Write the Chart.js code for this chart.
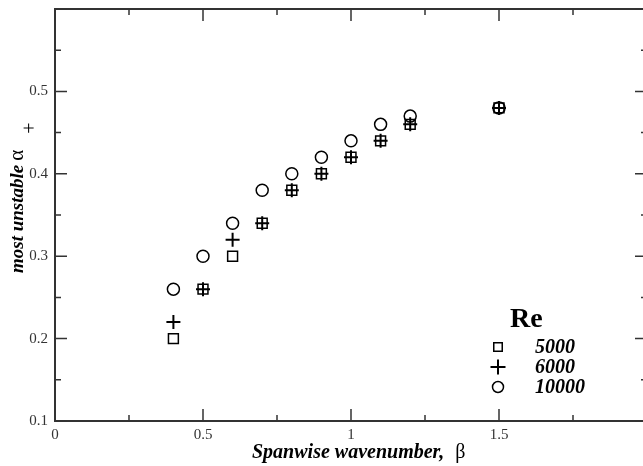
<!DOCTYPE html>
<html><head><meta charset="utf-8">
<script src="https://cdn.jsdelivr.net/npm/chart.js@4/dist/chart.umd.min.js"></script>
<style>
html,body{margin:0;padding:0;background:#fff;overflow:hidden;}
#wrap{width:643px;height:466px;overflow:hidden;position:relative;}
canvas{display:block;}
</style></head><body>
<div id="wrap"><canvas id="c" width="656" height="466"></canvas></div>
<script>
const beta    = [0.4, 0.5, 0.6, 0.7, 0.8, 0.9, 1.0, 1.1, 1.2, 1.5];
const re5000  = [0.20, 0.26, 0.30, 0.34, 0.38, 0.40, 0.42, 0.44, 0.46, 0.48];
const re6000  = [0.22, 0.26, 0.32, 0.34, 0.38, 0.40, 0.42, 0.44, 0.46, 0.48];
const re10000 = [0.26, 0.30, 0.34, 0.38, 0.40, 0.42, 0.44, 0.46, 0.47, 0.48];
const seriesNames = ['5000', '6000', '10000'];
const xTickLabels = [0, 0.5, 1, 1.5];
const yTickLabels = [0.1, 0.2, 0.3, 0.4, 0.5];
const xMajor = [0, 0.5, 1, 1.5, 2];
const xMinor = [0.25, 0.75, 1.25, 1.75];
const yMajor = [0.1, 0.2, 0.3, 0.4, 0.5, 0.6];
const yMinor = [0.15, 0.25, 0.35, 0.45, 0.55];

const SERIF = '"Liberation Serif", "Times New Roman", serif';
const pts = (ys) => beta.map((b, i) => ({x: b, y: ys[i]}));

const decor = {
  id: 'decor',
  afterDraw(chart) {
    const ctx = chart.ctx;
    const a = chart.chartArea;
    const xs = chart.scales.x, ys = chart.scales.y;
    ctx.save();
    ctx.strokeStyle = '#333';
    ctx.lineWidth = 2;
    ctx.strokeRect(a.left, a.top, a.right - a.left, a.bottom - a.top);
    ctx.lineWidth = 1.5;
    const tx = (v, len) => {
      const p = xs.getPixelForValue(v);
      ctx.beginPath();
      ctx.moveTo(p, a.bottom); ctx.lineTo(p, a.bottom - len);
      ctx.moveTo(p, a.top); ctx.lineTo(p, a.top + len);
      ctx.stroke();
    };
    const ty = (v, len) => {
      const p = ys.getPixelForValue(v);
      ctx.beginPath();
      ctx.moveTo(a.left, p); ctx.lineTo(a.left + len, p);
      ctx.moveTo(a.right, p); ctx.lineTo(a.right - len, p);
      ctx.stroke();
    };
    xMajor.forEach(v => tx(v, 12));
    xMinor.forEach(v => tx(v, 6));
    yMajor.forEach(v => ty(v, 12));
    yMinor.forEach(v => ty(v, 6));

    ctx.fillStyle = '#000';
    ctx.textBaseline = 'alphabetic';
    ctx.textAlign = 'left';
    ctx.font = 'italic bold 20px ' + SERIF;
    const xt = 'Spanwise wavenumber,';
    ctx.fillText(xt, 252, 458);
    const xw = ctx.measureText(xt).width;
    ctx.font = '20px ' + SERIF;
    ctx.fillText('β', 252 + xw + 11, 458);

    ctx.save();
    ctx.translate(23, 273);
    ctx.rotate(-Math.PI / 2);
    ctx.font = 'italic bold 19px ' + SERIF;
    const yt = 'most unstable';
    ctx.fillText(yt, 0, 0);
    const yw = ctx.measureText(yt).width;
    ctx.font = '21px ' + SERIF;
    ctx.fillText('α', yw + 4, 0);
    const aw = ctx.measureText('α').width;
    ctx.font = '20px ' + SERIF;
    ctx.fillText('+', yw + 4 + aw + 16, 13);
    ctx.restore();

    ctx.font = 'bold 28px ' + SERIF;
    ctx.fillText('Re', 510, 327);
    const rows = [347, 367, 387];
    chart.data.datasets.forEach((ds, i) => {
      ctx.fillStyle = 'rgba(0,0,0,0)';
      ctx.strokeStyle = '#000';
      ctx.lineWidth = ds.borderWidth;
      Chart.helpers.drawPoint(ctx, {
        pointStyle: ds.pointStyle,
        radius: ds.legendRadius,
        borderWidth: ds.borderWidth,
        rotation: 0
      }, 498, rows[i]);
      ctx.font = 'italic bold 20px ' + SERIF;
      ctx.fillStyle = '#000';
      ctx.fillText(ds.label, 535, rows[i] + 6);
    });
    ctx.restore();
  }
};

new Chart(document.getElementById('c'), {
  type: 'scatter',
  data: {
    datasets: [
      {label: seriesNames[0], data: pts(re5000), pointStyle: 'rect', pointRadius: 7, legendRadius: 6,
       borderColor: '#000', backgroundColor: 'rgba(0,0,0,0)', borderWidth: 1.5},
      {label: seriesNames[1], data: pts(re6000), pointStyle: 'cross', pointRadius: 7, legendRadius: 7.5,
       borderColor: '#000', backgroundColor: 'rgba(0,0,0,0)', borderWidth: 2},
      {label: seriesNames[2], data: pts(re10000), pointStyle: 'circle', pointRadius: 6, legendRadius: 5.5,
       borderColor: '#000', backgroundColor: 'rgba(0,0,0,0)', borderWidth: 1.5}
    ]
  },
  options: {
    responsive: false,
    devicePixelRatio: 1,
    animation: false,
    layout: {padding: {top: 8, right: 1, left: 0, bottom: 0}},
    plugins: {legend: {display: false}, tooltip: {enabled: false}},
    scales: {
      x: {
        type: 'linear', min: 0, max: 2,
        afterBuildTicks: (s) => { s.ticks = xTickLabels.map(v => ({value: v})); },
        afterFit: (s) => { s.height = 45; s.paddingLeft = 0; s.paddingRight = 0; },
        grid: {display: false, drawTicks: false, tickLength: 0},
        border: {display: false},
        ticks: {
          autoSkip: false, maxRotation: 0, padding: 5,
          color: '#333', font: {family: SERIF, size: 15},
          callback: (v) => String(v)
        }
      },
      y: {
        type: 'linear', min: 0.1, max: 0.6,
        afterBuildTicks: (s) => { s.ticks = yTickLabels.map(v => ({value: v})); },
        afterFit: (s) => { s.width = 55; s.paddingTop = 0; s.paddingBottom = 0; },
        grid: {display: false, drawTicks: false, tickLength: 0},
        border: {display: false},
        ticks: {
          autoSkip: false, padding: 7,
          color: '#333', font: {family: SERIF, size: 15},
          callback: (v) => v.toFixed(1)
        }
      }
    }
  },
  plugins: [decor]
});
</script>
</body></html>
